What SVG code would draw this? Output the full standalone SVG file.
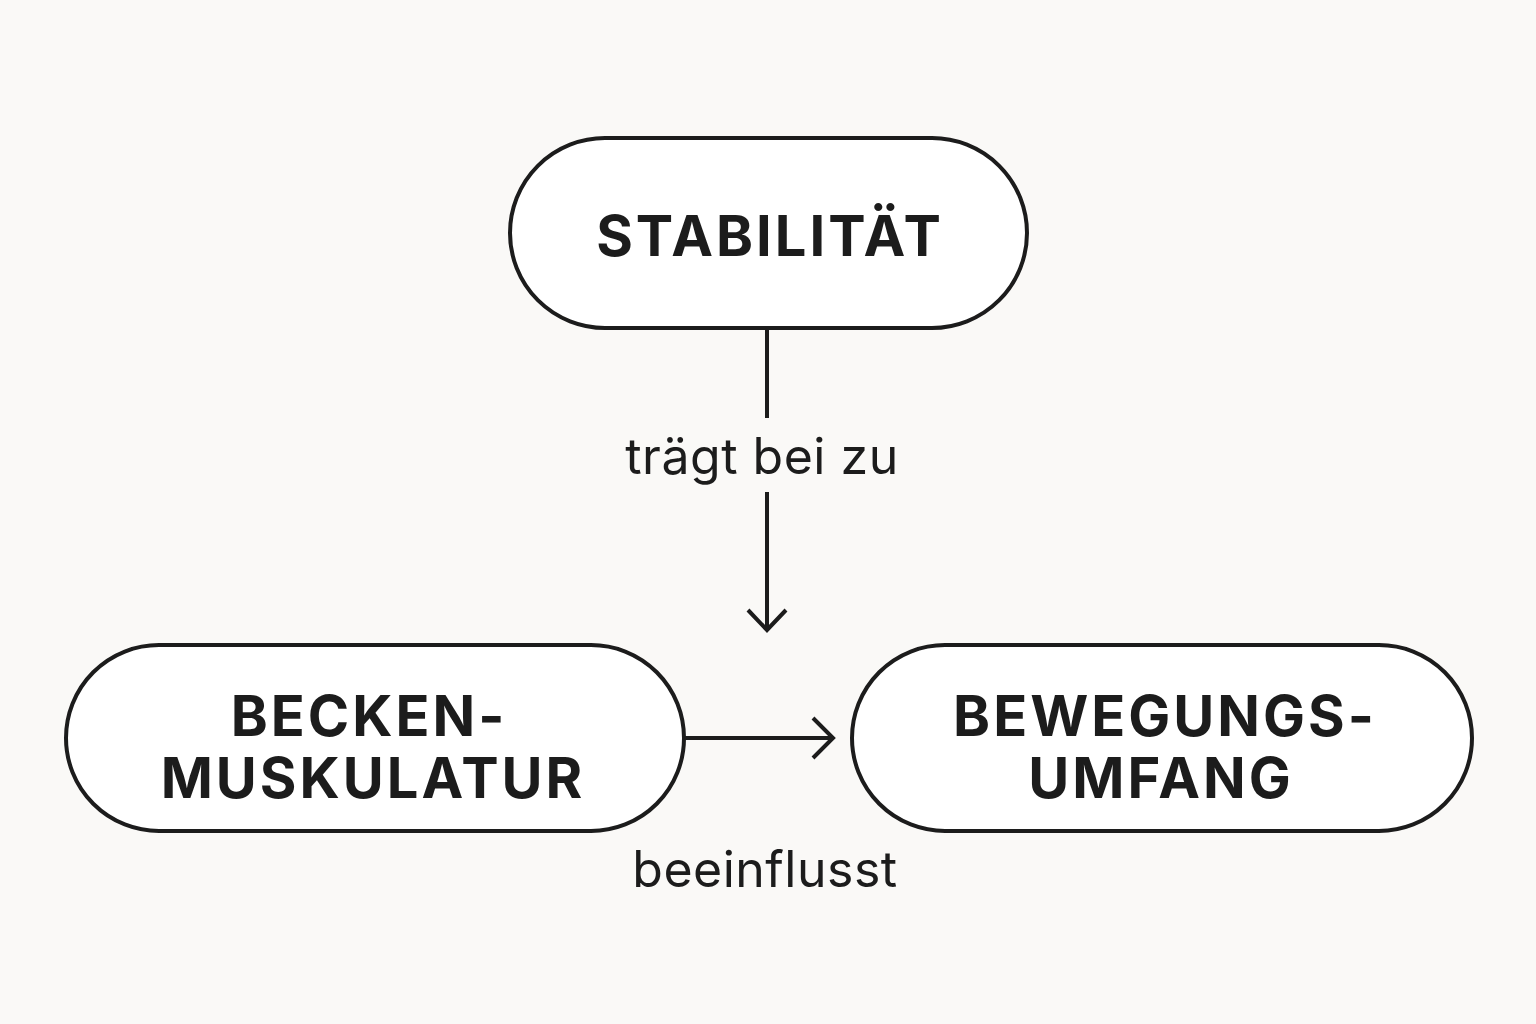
<svg xmlns="http://www.w3.org/2000/svg" width="1536" height="1024" viewBox="0 0 1536 1024">
<style>
.n{fill:#fff;stroke:#1c1c1c;stroke-width:4}
.t{font-family:Inter,"Liberation Sans",sans-serif;font-weight:700;font-size:56px;fill:#1c1c1c;text-anchor:middle;letter-spacing:3px}
.l{font-family:Inter,"Liberation Sans",sans-serif;font-size:50px;fill:#1c1c1c;text-anchor:middle;letter-spacing:0.5px}
.c{fill:none;stroke:#1c1c1c;stroke-width:4}
</style>
<rect width="1536" height="1024" fill="#faf9f7"/>
<g id="stabilitaet"><rect class="n" x="510" y="138" width="517" height="190" rx="95"/><text class="t" x="770" y="256">STABILITÄT</text></g>
<g id="becken"><rect class="n" x="66" y="645" width="618" height="186" rx="93"/><text class="t" x="369" y="736">BECKEN-</text><text class="t" x="373" y="798">MUSKULATUR</text></g>
<g id="bewegung"><rect class="n" x="852" y="645" width="620" height="186" rx="93"/><text class="t" x="1165" y="736">BEWEGUNGS-</text><text class="t" x="1161" y="798">UMFANG</text></g>
<g id="connectors">
<path class="c" d="M767 330V418M767 492V630M748 610L767 630L786 610"/>
<text class="l" x="762" y="474">trägt bei zu</text>
<path class="c" d="M684 738H833M813 718L833 738L813 758"/>
<text class="l" x="765" y="887">beeinflusst</text>
</g>
</svg>
